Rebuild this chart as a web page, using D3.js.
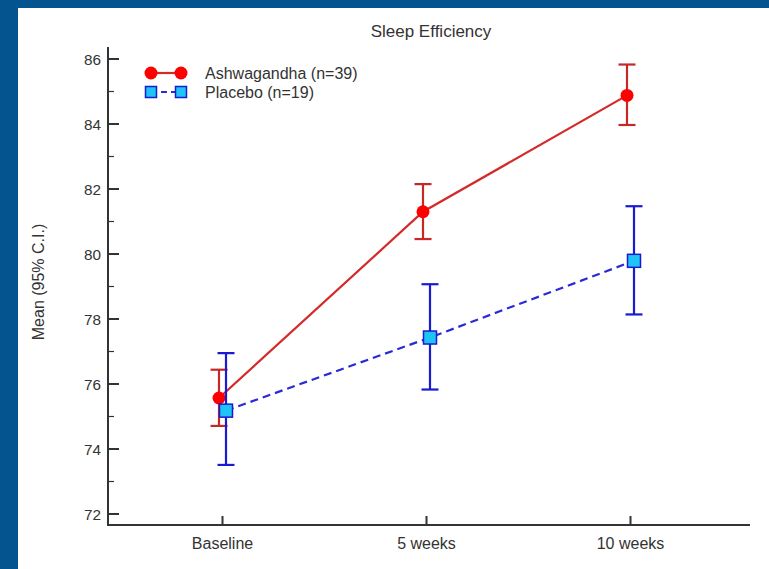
<!DOCTYPE html>
<html>
<head>
<meta charset="utf-8">
<script src="https://cdn.jsdelivr.net/npm/d3@7"></script>
<style>
  html, body { margin: 0; padding: 0; background: #03548f; }
  svg { display: block; }
  text { font-family: "Liberation Sans", Arial, sans-serif; fill: #333; }
</style>
</head>
<body>
<svg id="chart" width="769" height="569"></svg>
<script>
// Time points and group summaries (mean with 95% confidence limits)
const timepoints = ["Baseline", "5 weeks", "10 weeks"];
const groups = ["Ashwagandha (n=39)", "Placebo (n=19)"];
const ashwaMean = [75.57, 81.30, 84.88];
const ashwaLow  = [74.71, 80.46, 83.97];
const ashwaHigh = [76.44, 82.15, 85.83];
const placeboMean = [75.18, 77.43, 79.79];
const placeboLow  = [73.51, 75.83, 78.14];
const placeboHigh = [76.95, 79.07, 81.47];
const yTicks = [72, 74, 76, 78, 80, 82, 84, 86];
const yMinorTicks = [73, 75, 77, 79, 81, 83, 85];

const svg = d3.select("#chart");

// white panel inside the blue frame
svg.append("rect").attr("x", 18).attr("y", 8).attr("width", 751).attr("height", 561).attr("fill", "#fff");

const x = d3.scalePoint().domain(timepoints).range([222.5, 630.5]);
const y = d3.scaleLinear().domain([72, 86]).range([514, 59]);

const axisColor = "#333";

// y axis line and ticks (ticks point inward)
svg.append("line").attr("x1", 108).attr("x2", 108).attr("y1", 47).attr("y2", 526)
  .attr("stroke", axisColor).attr("stroke-width", 2);
svg.selectAll(".ymaj").data(yTicks).enter().append("line")
  .attr("x1", 108).attr("x2", 119).attr("y1", d => y(d)).attr("y2", d => y(d))
  .attr("stroke", axisColor).attr("stroke-width", 2);
svg.selectAll(".ymin").data(yMinorTicks).enter().append("line")
  .attr("x1", 108).attr("x2", 114).attr("y1", d => y(d)).attr("y2", d => y(d))
  .attr("stroke", axisColor).attr("stroke-width", 1.2);
svg.selectAll(".ylab").data(yTicks).enter().append("text")
  .attr("x", 101).attr("y", d => y(d) + 5.5).attr("text-anchor", "end")
  .attr("font-size", 15.3).text(d => d);

// x axis line and ticks
svg.append("line").attr("x1", 107).attr("x2", 750).attr("y1", 525).attr("y2", 525)
  .attr("stroke", axisColor).attr("stroke-width", 2);
svg.selectAll(".xt").data(timepoints).enter().append("line")
  .attr("x1", d => x(d)).attr("x2", d => x(d)).attr("y1", 525).attr("y2", 516)
  .attr("stroke", axisColor).attr("stroke-width", 2);
svg.selectAll(".xlab").data(timepoints).enter().append("text")
  .attr("x", d => x(d)).attr("y", 549).attr("text-anchor", "middle")
  .attr("font-size", 16).text(d => d);

// title and y label
svg.append("text").attr("x", 431).attr("y", 37).attr("text-anchor", "middle")
  .attr("font-size", 17).text("Sleep Efficiency");
svg.append("text").attr("transform", "translate(44,282) rotate(-90)")
  .attr("text-anchor", "middle").attr("font-size", 16).text("Mean (95% C.I.)");

const series = [
  { name: groups[0], mean: ashwaMean, low: ashwaLow, high: ashwaHigh, dx: -3.5,
    line: "#d42a2a", err: "#c62828", dash: null, marker: "circle", fill: "#ff0000", stroke: "#ff0000" },
  { name: groups[1], mean: placeboMean, low: placeboLow, high: placeboHigh, dx: 3.5,
    line: "#2a2ad6", err: "#1a1ad0", dash: "8,5", marker: "square", fill: "#1ec4f6", stroke: "#1a1ad0" }
];

series.forEach(s => {
  const pts = timepoints.map((t, i) => ({ t, i, m: s.mean[i], lo: s.low[i], hi: s.high[i] }));
  const g = svg.append("g");
  // error bars
  pts.forEach(p => {
    const cx = x(p.t) + s.dx;
    g.append("line").attr("x1", cx).attr("x2", cx).attr("y1", y(p.hi)).attr("y2", y(p.lo))
      .attr("stroke", s.err).attr("stroke-width", 2.2);
    [p.hi, p.lo].forEach(v => {
      g.append("line").attr("x1", cx - 8.5).attr("x2", cx + 8.5).attr("y1", y(v)).attr("y2", y(v))
        .attr("stroke", s.err).attr("stroke-width", 2.2);
    });
  });
  // connecting line
  g.append("path").datum(pts)
    .attr("d", d3.line().x(p => x(p.t) + s.dx).y(p => y(p.m)))
    .attr("fill", "none").attr("stroke", s.line).attr("stroke-width", 2.2)
    .attr("stroke-dasharray", s.dash);
  // markers
  pts.forEach(p => {
    const cx = x(p.t) + s.dx, cy = y(p.m);
    if (s.marker === "circle") {
      g.append("circle").attr("cx", cx).attr("cy", cy).attr("r", 6.5).attr("fill", s.fill);
    } else {
      g.append("rect").attr("x", cx - 6.5).attr("y", cy - 6.5).attr("width", 13).attr("height", 13)
        .attr("fill", s.fill).attr("stroke", s.stroke).attr("stroke-width", 1.5);
    }
  });
});

// legend
const lg = svg.append("g");
const legendRows = [{ s: series[0], y: 73 }, { s: series[1], y: 92 }];
legendRows.forEach(r => {
  const s = r.s;
  lg.append("line").attr("x1", 151).attr("x2", 181).attr("y1", r.y).attr("y2", r.y)
    .attr("stroke", s.line).attr("stroke-width", 2.2).attr("stroke-dasharray", s.dash ? "6,4" : null);
  [151, 181].forEach(cx => {
    if (s.marker === "circle") {
      lg.append("circle").attr("cx", cx).attr("cy", r.y).attr("r", 6.5).attr("fill", s.fill);
    } else {
      lg.append("rect").attr("x", cx - 5.5).attr("y", r.y - 5.5).attr("width", 11).attr("height", 11)
        .attr("fill", s.fill).attr("stroke", s.stroke).attr("stroke-width", 1.5);
    }
  });
  lg.append("text").attr("x", 205).attr("y", r.y + 5.5).attr("font-size", 16).text(s.name);
});
</script>
</body>
</html>
